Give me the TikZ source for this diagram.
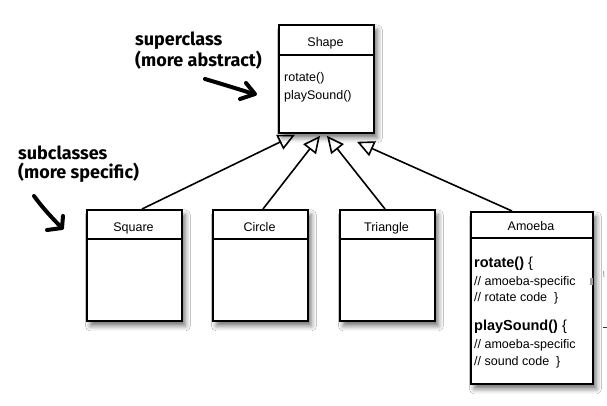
\documentclass[tikz,border=0pt]{standalone}
\usepackage{fontspec}
\setmainfont{Liberation Sans}
\newfontfamily\handfont{Fira Sans}
\usetikzlibrary{arrows.meta,shadows.blur}
\tikzset{
  umlbox/.style={draw, line width=1.8pt, fill=white, anchor=north west, inner sep=0pt,
    blur shadow={shadow xshift=3.5pt, shadow yshift=-5pt, shadow blur radius=5pt, shadow opacity=55}},
  divline/.style={line width=1.4pt},
  inh/.style={line width=1.6pt, -{Triangle[open, length=17pt, width=16pt, line width=1.6pt]}},
  hdr/.style={anchor=base, inner sep=0pt, font=\fontsize{12.5}{15}\selectfont},
  meth/.style={anchor=base west, inner sep=0pt, font=\fontsize{12.5}{15}\selectfont},
  boldm/.style={anchor=base west, inner sep=0pt, font=\fontsize{14.5}{17}\selectfont},
  hand/.style={anchor=base west, inner sep=0pt, font=\handfont\bfseries\fontsize{18}{21}\selectfont},
  handarrow/.style={line width=4pt, line cap=round, line join=round}
}
\begin{document}
\begin{tikzpicture}[x=1pt, y=-1pt]
\useasboundingbox[fill=white] (0,0) rectangle (607,405);

% boxes
\node[umlbox, minimum width=95pt, minimum height=108pt] (shape) at (278,24) {};
\node[umlbox, minimum width=95pt, minimum height=111pt] (square) at (86,209) {};
\node[umlbox, minimum width=95pt, minimum height=111pt] (circle) at (212,209) {};
\node[umlbox, minimum width=95pt, minimum height=111pt] (triangle) at (339,209) {};
\node[umlbox, minimum width=122pt, minimum height=172pt] (amoeba) at (470,211) {};

% dividers
\draw[divline] ([yshift=-31pt]shape.north west) -- ([yshift=-31pt]shape.north east);
\draw[divline] ([yshift=-30pt]square.north west) -- ([yshift=-30pt]square.north east);
\draw[divline] ([yshift=-30pt]circle.north west) -- ([yshift=-30pt]circle.north east);
\draw[divline] ([yshift=-30pt]triangle.north west) -- ([yshift=-30pt]triangle.north east);
\draw[divline] ([yshift=-27pt]amoeba.north west) -- ([yshift=-27pt]amoeba.north east);

% headers
\node[hdr] (shapeT) at (325.5,46.5) {Shape};
\node[hdr] (squareT) at (133.5,231.5) {Square};
\node[hdr] (circleT) at (259.5,231.5) {Circle};
\node[hdr] (triangleT) at (386.5,231.5) {Triangle};
\node[hdr] (amoebaT) at (531,230.7) {Amoeba};

% Shape methods
\node[meth] (m1) at (284,81.5) {rotate()};
\node[meth] (m2) at (284,99) {playSound()};

% Amoeba methods
\node[boldm] (a1) at (474,267.7) {\bfseries rotate() \mdseries\{};
\node[meth] (a2) at (474,285) {// amoeba-specific};
\node[meth] (a3) at (474,301) {// rotate code \ \}};
\node[boldm] (a4) at (474,330.7) {\bfseries playSound() \mdseries\{};
\node[meth] (a5) at (474,348.3) {// amoeba-specific};
\node[meth] (a6) at (474,365.7) {// sound code \ \}};

% inheritance connectors
\draw[inh] ([xshift=56pt]square.north west) -- ([xshift=17pt,yshift=-1pt]shape.south west);
\draw[inh] ([xshift=51pt]circle.north west) -- ([xshift=42pt,yshift=-2pt]shape.south west);
\draw[inh] ([xshift=46pt]triangle.north west) -- ([xshift=49pt,yshift=-2pt]shape.south west);
\draw[inh] ([xshift=42pt]amoeba.north west) -- ([xshift=79pt,yshift=-8pt]shape.south west);

% handwritten annotations
\node[hand] (sup1) at (135,45) {superclass};
\node[hand] (sup2) at (135,66) {(more abstract)};
\node[hand] (sub1) at (18,159.3) {subclasses};
\node[hand] (sub2) at (18,178) {(more specific)};

\draw[handarrow] (205,79) .. controls (222,84) and (238,89) .. (254,94);
\draw[handarrow] (246,83) -- (255,94) -- (240,99);
\draw[handarrow] (34,196) .. controls (42,207) and (52,218) .. (62,228);
\draw[handarrow] (63,216) -- (62,228) -- (47,230);

% stray marks at the right edge
\fill[gray!75] (590,278) rectangle (593,285);
\draw[gray!70, line width=1pt] (603.5,271) -- (604,277);
\draw[black!80, line width=1pt] (603,327) -- (607,327);
\end{tikzpicture}
\end{document}
